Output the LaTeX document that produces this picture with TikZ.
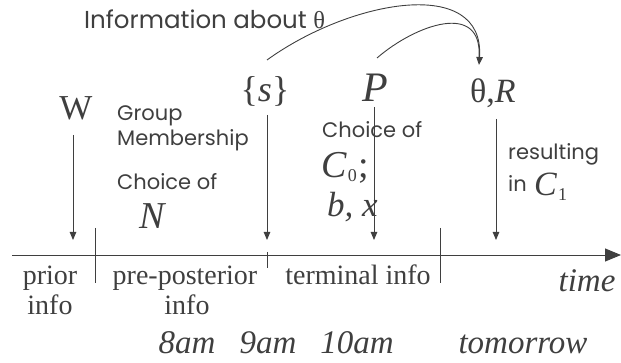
\documentclass[tikz,border=0pt]{standalone}
\usepackage{fontspec}
\setmainfont{Liberation Serif}
\newfontfamily\gothic{Poppins}
\newfontfamily\grk{Liberation Serif}
\usetikzlibrary{arrows.meta}
\definecolor{ink}{HTML}{3F3F3F}
\begin{document}
\begin{tikzpicture}[x=1pt,y=-1pt,
  every node/.style={inner sep=0pt, text=ink},
  line/.style={draw=ink, line width=0.9pt},
  arr/.style={line, -{Triangle[length=8pt,width=6.5pt]}},
  axisarr/.style={line, -{Triangle[length=16pt,width=13pt]}},
  sans/.style={font=\gothic\fontsize{21}{24}\selectfont, anchor=base west},
  sansbig/.style={font=\gothic\fontsize{24.5}{28}\selectfont, anchor=base west},
  ser/.style={font=\fontsize{28}{30}\selectfont, anchor=base},
  seri/.style={font=\fontsize{33}{34}\selectfont\itshape, anchor=base},
]
\useasboundingbox (0,0) rectangle (621,363);

% time axis
\coordinate (ax0) at (12,255);
\coordinate (ax1) at (621,255);
\draw[axisarr] (ax0) -- (ax1);

% ticks
\coordinate (t1a) at (95,228);  \coordinate (t1b) at (95,283);
\coordinate (t2a) at (267,252); \coordinate (t2b) at (267,268);
\coordinate (t3a) at (440,228); \coordinate (t3b) at (440,283);
\draw[line] (t1a) -- (t1b);
\draw[line] (t2a) -- (t2b);
\draw[line] (t3a) -- (t3b);

% labels under the axis
\node[ser] (prior) at (50,285) {prior};
\node[ser] (info1) at (50,315) {info};
\node[ser] (prepost) at (185,285) {pre-posterior};
\node[ser] (info2) at (187,315) {info};
\node[ser] (term) at (358,285) {terminal info};
\node[seri] (time) at (587,292) {time};
\node[seri] (h8) at (187,353) {8am};
\node[seri] (h9) at (268,353) {9am};
\node[seri] (h10) at (357,353) {10am};
\node[seri] (tom) at (523,353) {tomorrow};

% top labels
\node[font=\fontsize{35}{36}\selectfont, anchor=base] (W) at (76,120) {W};
\node[font=\fontsize{36}{36}\selectfont, anchor=base] (S) at (265,102) {\{\textit{s}\}};
\node[font=\fontsize{42}{42}\selectfont\itshape, anchor=base] (P) at (375,102) {P};
\node[font=\fontsize{34}{34}\selectfont, anchor=base west] (TR) at (470,103) {θ,\textit{R}};

\node[sansbig] (infolabel) at (84,29) {Information about {\grk θ}};

\node[sans] (grp) at (117,121) {Group};
\node[sans] (memb) at (117,146) {Membership};
\node[sans] (ch1) at (117,190) {Choice of};
\node[font=\fontsize{38}{38}\selectfont\itshape, anchor=base] (N) at (152,229) {N};

\node[sans] (ch2) at (322,138) {Choice of};
\node[font=\fontsize{38}{38}\selectfont, anchor=base west] (C0) at (321,178)
  {\textit{C}\kern1pt{\fontsize{18}{18}\selectfont\raisebox{-4pt}{0}}\kern2pt;};
\node[font=\fontsize{35}{35}\selectfont\itshape, anchor=base west] (bx) at (327,217) {b, x};

\node[sans] (res) at (508,160) {resulting};
\node[sans] (inC) at (508,192) {in};
\node[font=\fontsize{34}{34}\selectfont, anchor=base west] (C1) at (534,196)
  {\textit{C}\kern1pt{\fontsize{18}{18}\selectfont\raisebox{-5pt}{1}}};

% vertical arrows
\coordinate (Wa) at (73,135);  \coordinate (Wb) at (73,240);
\coordinate (Sa) at (267,115); \coordinate (Sb) at (267,240);
\coordinate (Pa) at (374,107); \coordinate (Pb) at (374,240);
\coordinate (Ra) at (496,119); \coordinate (Rb) at (496,240);
\draw[arr] (Wa) -- (Wb);
\draw[arr] (Sa) -- (Sb);
\draw[arr] (Pa) -- (Pb);
\draw[arr] (Ra) -- (Rb);

% information curves
\coordinate (cs1) at (267,60);
\coordinate (cs2) at (377,58);
\coordinate (tip) at (479,65);
\draw[line] (cs2) .. controls (415,25) and (483,0) .. (479,58);
\draw[arr] (cs1) .. controls (350,0) and (485,-25) .. (tip);
\end{tikzpicture}
\end{document}
